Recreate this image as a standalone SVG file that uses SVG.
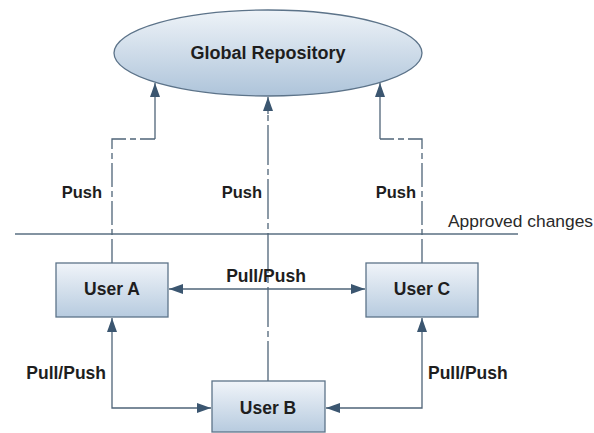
<svg xmlns="http://www.w3.org/2000/svg" width="594" height="433" viewBox="0 0 594 433">
<style>
.lbl{font-family:"Liberation Sans",Arial,sans-serif;font-weight:bold;fill:#1e1e1e;}
.box{fill:url(#gb);stroke:#5c7389;stroke-width:1.3;}
.ln{fill:none;stroke:#4f6478;stroke-width:1.3;}
.dash{stroke-dasharray:24 4 6 4;}
.dd{stroke-dasharray:40 4 6 4;}
</style>
<defs>
<linearGradient id="gb" x1="0" y1="0" x2="0" y2="1">
<stop offset="0" stop-color="#f0f4f9"/>
<stop offset="1" stop-color="#b7cbdf"/>
</linearGradient>
<linearGradient id="ge" x1="0" y1="0" x2="0" y2="1">
<stop offset="0" stop-color="#eef3f8"/>
<stop offset="1" stop-color="#aec4da"/>
</linearGradient>
<marker id="ah" viewBox="0 0 14 10" refX="14" refY="5" markerWidth="14" markerHeight="10" markerUnits="userSpaceOnUse" orient="auto-start-reverse">
<path d="M0,0 L14,5 L0,10 Z" fill="#3b5670"/>
</marker>
</defs>
<g id="repo">
<ellipse cx="268" cy="53" rx="154" ry="43" fill="url(#ge)" stroke="#5c7389" stroke-width="1.3"/>
<text class="lbl" x="268" y="59" font-size="18" text-anchor="middle">Global Repository</text>
</g>
<g id="connectors">
<line x1="15" y1="234" x2="518" y2="234" stroke="#5a6f82" stroke-width="1.3"/>
<path class="ln dash" d="M112,263 V139 H155"/>
<line class="ln" x1="155" y1="139" x2="155" y2="83" marker-end="url(#ah)"/>
<path class="ln dash" d="M422,263 V139 H380"/>
<line class="ln" x1="380" y1="139" x2="380" y2="83" marker-end="url(#ah)"/>
<line class="ln dd" x1="268" y1="381" x2="268" y2="112"/>
<line class="ln" x1="268" y1="114" x2="268" y2="97" marker-end="url(#ah)"/>
<line class="ln" x1="169" y1="289" x2="365" y2="289" marker-start="url(#ah)" marker-end="url(#ah)"/>
<path class="ln" d="M112,318 V408 H211" marker-start="url(#ah)" marker-end="url(#ah)"/>
<path class="ln" d="M422,318 V408 H326" marker-start="url(#ah)" marker-end="url(#ah)"/>
</g>
<g id="labels">
<text class="lbl" x="102" y="198" font-size="16.5" text-anchor="end">Push</text>
<text class="lbl" x="262" y="198" font-size="16.5" text-anchor="end">Push</text>
<text class="lbl" x="416" y="198" font-size="16.5" text-anchor="end">Push</text>
<text x="448" y="227" font-family="Liberation Sans,Arial,sans-serif" font-size="17.4" fill="#2a2a2a">Approved changes</text>
<text class="lbl" x="266" y="282" font-size="17.5" text-anchor="middle">Pull/Push</text>
<text class="lbl" x="106" y="379" font-size="17.5" text-anchor="end">Pull/Push</text>
<text class="lbl" x="428" y="379" font-size="17.5">Pull/Push</text>
</g>
<g id="userA">
<rect class="box" x="56" y="263" width="112" height="54"/>
<text class="lbl" x="112" y="295" font-size="17.5" text-anchor="middle">User A</text>
</g>
<g id="userC">
<rect class="box" x="366" y="263" width="112" height="54"/>
<text class="lbl" x="422" y="295" font-size="17.5" text-anchor="middle">User C</text>
</g>
<g id="userB">
<rect class="box" x="212" y="381" width="113" height="51"/>
<text class="lbl" x="268" y="414" font-size="17.5" text-anchor="middle">User B</text>
</g>
</svg>
